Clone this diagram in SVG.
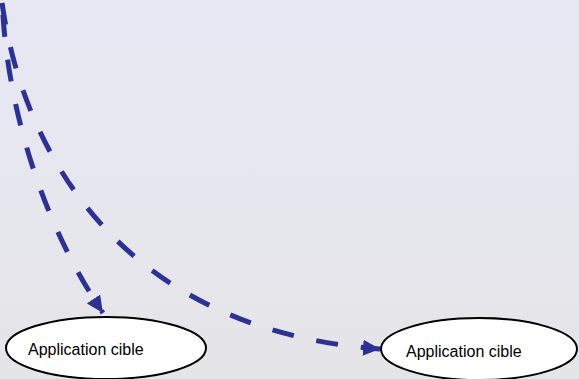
<svg xmlns="http://www.w3.org/2000/svg" width="579" height="379" viewBox="0 0 579 379">
  <defs>
    <linearGradient id="bg" x1="0" y1="0" x2="0" y2="1">
      <stop offset="0" stop-color="#e7e7f4"/>
      <stop offset="1" stop-color="#e5e5e8"/>
    </linearGradient>
    <marker id="head" markerUnits="userSpaceOnUse" markerWidth="18" markerHeight="16" viewBox="0 0 18 16" refX="17" refY="8" orient="auto">
      <path d="M0,0 L17,8 L0,16 Z" fill="#2d3194"/>
    </marker>
    <style>
      .flow { fill: none; stroke: #2d3194; stroke-width: 5; stroke-dasharray: 22 23; marker-end: url(#head); }
      .node ellipse { fill: #ffffff; stroke: #000000; stroke-width: 2; }
      .node text { font-family: "Liberation Sans", Arial, sans-serif; font-size: 16px; fill: #000000; }
    </style>
  </defs>

  <rect x="0" y="0" width="579" height="379" fill="url(#bg)"/>

  <g id="connectors">
    <path class="flow" d="M2,-5 C5,100 40,220 103,313" stroke-dashoffset="25"/>
    <path class="flow" d="M1,-5 C20,150 120,330 380,349" stroke-dashoffset="37"/>
  </g>

  <g id="node-cible-1" class="node">
    <ellipse cx="106" cy="348" rx="100" ry="31"/>
    <text x="28" y="355">Application cible</text>
  </g>

  <g id="node-cible-2" class="node">
    <ellipse cx="479" cy="349" rx="98" ry="31"/>
    <text x="406" y="357">Application cible</text>
  </g>
</svg>
